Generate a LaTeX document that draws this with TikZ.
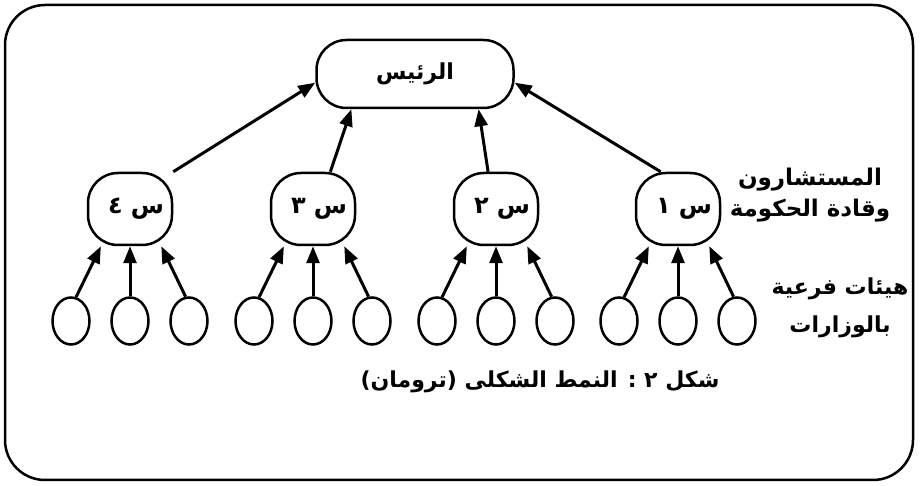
\documentclass[tikz,border=0pt]{standalone}
\usepackage{fontspec}
\usetikzlibrary{arrows.meta,shapes.geometric}
\newfontfamily\arabicfont[Script=Arabic]{DejaVu Sans}
\TeXXeTstate=1
\tikzset{
	chief/.style={draw, line width=2.5pt, rounded corners=30pt, minimum width=197pt, minimum height=68pt},
	advisor/.style={draw, line width=2.5pt, rounded corners=30pt, minimum width=84pt, minimum height=72pt,
		text width=68pt, align=right, font=\arabicfont\bfseries\fontsize{24}{30}\selectfont},
	agency/.style={draw, ellipse, line width=2.5pt, minimum width=37pt, minimum height=47pt, inner sep=0pt},
	up/.style={-{Triangle[length=17pt,width=13pt]}, line width=3pt},
	lbl/.style={font=\arabicfont\bfseries\fontsize{22}{31}\selectfont, align=center}
}
\begin{document}
\begin{tikzpicture}[x=1pt, y=-1pt]
	\useasboundingbox (0,0) rectangle (922,486);
	\draw[line width=2.5pt, rounded corners=40pt] (5,5) rectangle (913,480);
	\node[chief, lbl] (boss) at (415,74) {\beginR الرئيس\endR};
	\foreach \i/\x/\d in {1/678/١, 2/496/٢, 3/313/٣, 4/130/٤}{
		\node[advisor] (s\i) at (\x,209) {\beginR س \d\endR};
		\foreach \j/\dx in {1/-59, 2/0, 3/59}
			\node[agency, xshift=\dx pt] (a\i\j) at (\x,321) {};
		\draw[up] (a\i1.78) -- (s\i.232);
		\draw[up] (a\i2.north) -- (s\i.south);
		\draw[up] (a\i3.98) -- (s\i.310);
	}
	\draw[up] (s4.north east) -- (boss.185);
	\draw[up] (s3.65) -- (boss.209);
	\draw[up] (s2.102) -- (boss.331);
	\draw[up] (s1.115) -- (boss.355);
	\node[lbl, font=\arabicfont\bfseries\fontsize{23}{31}\selectfont] (advlbl) at (810,195) {\beginR المستشارون\endR\\\beginR وقادة الحكومة\endR};
	\node[lbl, font=\arabicfont\bfseries\fontsize{22}{38}\selectfont] (agclbl) at (840,308) {\beginR هيئات فرعية\endR\\\beginR بالوزارات\endR};
	\node[lbl] (caption) at (540,382) {\beginR شكل ٢ : النمط الشكلى (ترومان)\endR};
\end{tikzpicture}
\end{document}
